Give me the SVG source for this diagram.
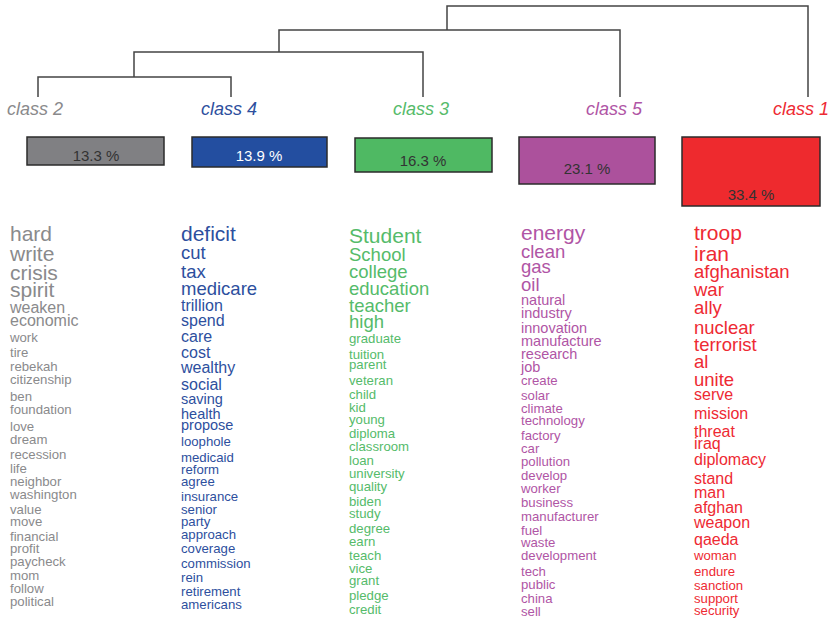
<svg xmlns="http://www.w3.org/2000/svg" width="832" height="621" viewBox="0 0 832 621">
<style>
text{font-family:"Liberation Sans",Arial,sans-serif}
.lbl{font-size:18px;font-style:italic;text-anchor:middle}
.pct{font-size:15px;text-anchor:middle;fill:#333}
.box{stroke:#2b2b2b;stroke-width:1.5}
.c2{fill:#8a8a8c}.c4{fill:#2d4f9e}.c3{fill:#55bb6a}.c5{fill:#b055a5}.c1{fill:#ee2a33}
.s21{font-size:21px}.s18{font-size:18.5px}.s16{font-size:16px}.s14{font-size:14.5px}.s13{font-size:13.2px}
#connectors path{fill:none;stroke:#444;stroke-width:1.5}
</style>
<rect width="832" height="621" fill="#fff"/>
<g id="connectors">
<path d="M38,97V77H231V97"/>
<path d="M134,77V52H423V97"/>
<path d="M279,52V30H620V97"/>
<path d="M447,30V6H808V97"/>
</g>
<g id="class2">
<text class="lbl c2" x="35" y="115">class 2</text>
<rect class="box" x="27" y="137" width="137" height="28" fill="#808083"/>
<text class="pct" x="96" y="161">13.3 %</text>
<g class="c2">
<text class="s21" x="10" y="241">hard</text>
<text class="s21" x="10" y="260.5">write</text>
<text class="s21" x="10" y="279.5">crisis</text>
<text class="s21" x="10" y="297">spirit</text>
<text class="s16" x="10" y="312.5">weaken</text>
<text class="s16" x="10" y="326">economic</text>
<text class="s13" x="10" y="341.5">work</text>
<text class="s13" x="10" y="356.5">tire</text>
<text class="s13" x="10" y="370.5">rebekah</text>
<text class="s13" x="10" y="383.5">citizenship</text>
<text class="s13" x="10" y="400.5">ben</text>
<text class="s13" x="10" y="414">foundation</text>
<text class="s13" x="10" y="431">love</text>
<text class="s13" x="10" y="444">dream</text>
<text class="s13" x="10" y="459">recession</text>
<text class="s13" x="10" y="473">life</text>
<text class="s13" x="10" y="486">neighbor</text>
<text class="s13" x="10" y="498.5">washington</text>
<text class="s13" x="10" y="513.5">value</text>
<text class="s13" x="10" y="526">move</text>
<text class="s13" x="10" y="540.5">financial</text>
<text class="s13" x="10" y="552.5">profit</text>
<text class="s13" x="10" y="565.5">paycheck</text>
<text class="s13" x="10" y="579.5">mom</text>
<text class="s13" x="10" y="593">follow</text>
<text class="s13" x="10" y="605.5">political</text>
</g>
</g>
<g id="class4">
<text class="lbl c4" x="229" y="115">class 4</text>
<rect class="box" x="192" y="137" width="135" height="30" fill="#234ea0"/>
<text class="pct" x="259" y="161" fill="#fff" style="fill:#fff">13.9 %</text>
<g class="c4">
<text class="s21" x="181" y="241">deficit</text>
<text class="s18" x="181" y="259">cut</text>
<text class="s18" x="181" y="277.5">tax</text>
<text class="s18" x="181" y="294.5">medicare</text>
<text class="s16" x="181" y="311">trillion</text>
<text class="s16" x="181" y="326">spend</text>
<text class="s16" x="181" y="342">care</text>
<text class="s16" x="181" y="357.5">cost</text>
<text class="s16" x="181" y="372.5">wealthy</text>
<text class="s16" x="181" y="390">social</text>
<text class="s14" x="181" y="404">saving</text>
<text class="s14" x="181" y="419">health</text>
<text class="s14" x="181" y="430">propose</text>
<text class="s13" x="181" y="445.5">loophole</text>
<text class="s13" x="181" y="461.5">medicaid</text>
<text class="s13" x="181" y="473.5">reform</text>
<text class="s13" x="181" y="486">agree</text>
<text class="s13" x="181" y="500.5">insurance</text>
<text class="s13" x="181" y="514">senior</text>
<text class="s13" x="181" y="526">party</text>
<text class="s13" x="181" y="539">approach</text>
<text class="s13" x="181" y="552.5">coverage</text>
<text class="s13" x="181" y="567.5">commission</text>
<text class="s13" x="181" y="581.5">rein</text>
<text class="s13" x="181" y="595.5">retirement</text>
<text class="s13" x="181" y="609">americans</text>
</g>
</g>
<g id="class3">
<text class="lbl c3" x="421" y="115">class 3</text>
<rect class="box" x="355" y="138" width="137" height="34" fill="#4fb963"/>
<text class="pct" x="423" y="166">16.3 %</text>
<g class="c3">
<text class="s21" x="349" y="242.5">Student</text>
<text class="s18" x="349" y="260.5">School</text>
<text class="s18" x="349" y="277.5">college</text>
<text class="s18" x="349" y="294.5">education</text>
<text class="s18" x="349" y="312">teacher</text>
<text class="s18" x="349" y="327.5">high</text>
<text class="s13" x="349" y="342.5">graduate</text>
<text class="s13" x="349" y="358.5">tuition</text>
<text class="s13" x="349" y="368.5">parent</text>
<text class="s13" x="349" y="384.5">veteran</text>
<text class="s13" x="349" y="398.5">child</text>
<text class="s13" x="349" y="411.5">kid</text>
<text class="s13" x="349" y="424">young</text>
<text class="s13" x="349" y="437.5">diploma</text>
<text class="s13" x="349" y="450.5">classroom</text>
<text class="s13" x="349" y="464.5">loan</text>
<text class="s13" x="349" y="477.5">university</text>
<text class="s13" x="349" y="491">quality</text>
<text class="s13" x="349" y="505.5">biden</text>
<text class="s13" x="349" y="517.5">study</text>
<text class="s13" x="349" y="532.5">degree</text>
<text class="s13" x="349" y="545.5">earn</text>
<text class="s13" x="349" y="559.5">teach</text>
<text class="s13" x="349" y="572.5">vice</text>
<text class="s13" x="349" y="584.5">grant</text>
<text class="s13" x="349" y="600">pledge</text>
<text class="s13" x="349" y="613.5">credit</text>
</g>
</g>
<g id="class5">
<text class="lbl c5" x="614" y="115">class 5</text>
<rect class="box" x="519" y="137" width="136" height="47" fill="#ac519c"/>
<text class="pct" x="587" y="174">23.1 %</text>
<g class="c5">
<text class="s21" x="521" y="240">energy</text>
<text class="s18" x="521" y="257.5">clean</text>
<text class="s18" x="521" y="272.5">gas</text>
<text class="s18" x="521" y="291">oil</text>
<text class="s14" x="521" y="305">natural</text>
<text class="s14" x="521" y="317.5">industry</text>
<text class="s14" x="521" y="333">innovation</text>
<text class="s14" x="521" y="345.5">manufacture</text>
<text class="s14" x="521" y="358.5">research</text>
<text class="s14" x="521" y="371.5">job</text>
<text class="s13" x="521" y="385">create</text>
<text class="s13" x="521" y="400">solar</text>
<text class="s13" x="521" y="412.5">climate</text>
<text class="s13" x="521" y="425">technology</text>
<text class="s13" x="521" y="440">factory</text>
<text class="s13" x="521" y="452.5">car</text>
<text class="s13" x="521" y="466">pollution</text>
<text class="s13" x="521" y="479.5">develop</text>
<text class="s13" x="521" y="492.5">worker</text>
<text class="s13" x="521" y="506.5">business</text>
<text class="s13" x="521" y="520.5">manufacturer</text>
<text class="s13" x="521" y="535">fuel</text>
<text class="s13" x="521" y="547">waste</text>
<text class="s13" x="521" y="559.5">development</text>
<text class="s13" x="521" y="575.5">tech</text>
<text class="s13" x="521" y="589">public</text>
<text class="s13" x="521" y="602.5">china</text>
<text class="s13" x="521" y="615.5">sell</text>
</g>
</g>
<g id="class1">
<text class="lbl c1" x="801" y="115">class 1</text>
<rect class="box" x="682" y="137" width="138" height="69" fill="#ee2a2e"/>
<text class="pct" x="751" y="200">33.4 %</text>
<g class="c1">
<text class="s21" x="694" y="240">troop</text>
<text class="s21" x="694" y="260.5">iran</text>
<text class="s18" x="694" y="277.5">afghanistan</text>
<text class="s18" x="694" y="295.5">war</text>
<text class="s18" x="694" y="314">ally</text>
<text class="s18" x="694" y="334">nuclear</text>
<text class="s18" x="694" y="350.5">terrorist</text>
<text class="s18" x="694" y="367.5">al</text>
<text class="s18" x="694" y="385.5">unite</text>
<text class="s16" x="694" y="400">serve</text>
<text class="s16" x="694" y="419">mission</text>
<text class="s16" x="694" y="436.5">threat</text>
<text class="s16" x="694" y="448.5">iraq</text>
<text class="s16" x="694" y="465">diplomacy</text>
<text class="s16" x="694" y="483.5">stand</text>
<text class="s16" x="694" y="497.5">man</text>
<text class="s16" x="694" y="512.5">afghan</text>
<text class="s16" x="694" y="527.5">weapon</text>
<text class="s16" x="694" y="545">qaeda</text>
<text class="s13" x="694" y="560">woman</text>
<text class="s13" x="694" y="576">endure</text>
<text class="s13" x="694" y="590">sanction</text>
<text class="s13" x="694" y="602.5">support</text>
<text class="s13" x="694" y="615">security</text>
</g>
</g>
</svg>
